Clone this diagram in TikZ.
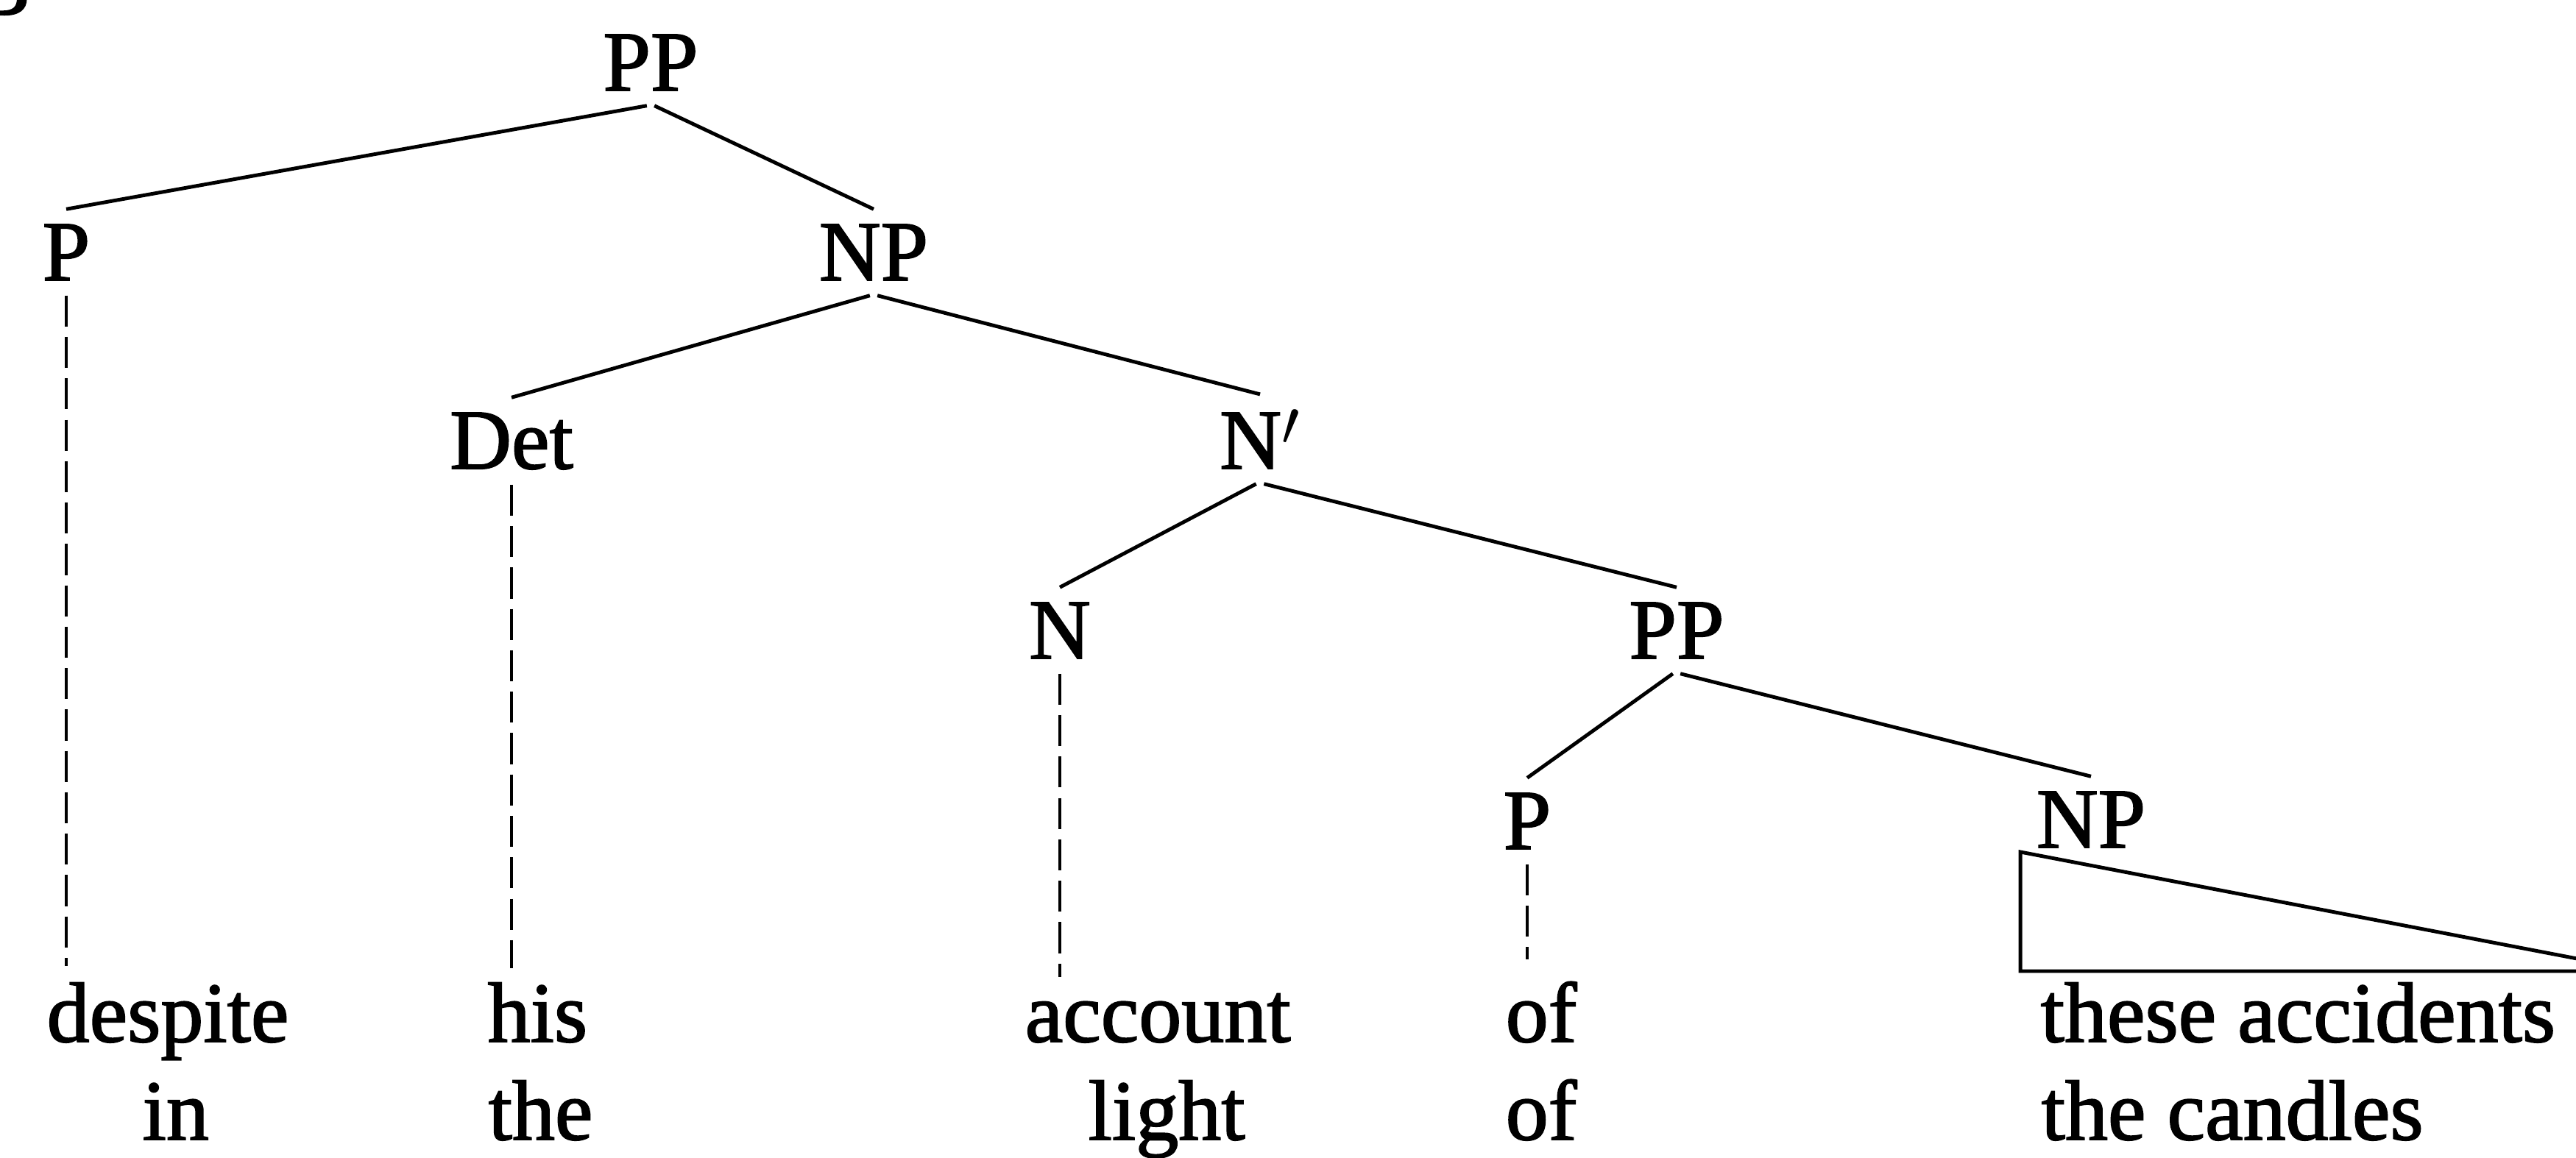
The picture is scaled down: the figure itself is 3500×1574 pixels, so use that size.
\documentclass[tikz,border=0pt]{standalone}
\usepackage{fontspec}
\setmainfont{Liberation Serif}[FakeBold=1.6]
\usepackage{tikz}

\begin{document}
\begin{tikzpicture}[x=0.01cm,y=-0.01cm,
  cat/.style={font=\fontsize{33}{40}\selectfont,anchor=base,inner sep=0.2cm},
  wrd/.style={font=\fontsize{33}{40}\selectfont,anchor=base west,inner sep=0pt},
  branch/.style={line width=1.4pt},
  trace/.style={line width=1.4pt,dash pattern=on 12pt off 4pt}]
\useasboundingbox (0,0) rectangle (3500,1574);
\clip (0,0) rectangle (3500,1574);
\node[cat,anchor=base east,inner sep=0pt] (tag) at (42,20) {B};
\node[cat] (pp) at (884,123) {PP};
\node[cat] (p) at (90,381) {P};
\node[cat] (np) at (1187,381) {NP};
\node[cat] (det) at (695,637) {Det};
\node[cat] (nbar) at (1712,637) {N$'$};
\node[cat] (n) at (1440,895) {N};
\node[cat] (pp2) at (2278,895) {PP};
\node[cat] (p2) at (2075,1154) {P};
\node[cat] (np2) at (2841,1152) {NP};
\draw[branch] (pp.-95) -- (p.north);
\draw[branch] (pp.-85) -- (np.north);
\draw[branch] (np.-95) -- (det.north);
\draw[branch] (np.-85) -- (nbar.north);
\draw[branch] (nbar.-95) -- (n.north);
\draw[branch] (nbar.-85) -- (pp2.north);
\draw[branch] (pp2.-95) -- (p2.north);
\draw[branch] (pp2.-85) -- (np2.north);
\node[wrd] (w1a) at (63,1416) {despite};
\node[wrd] (w1b) at (193,1549) {in};
\node[wrd] (w2a) at (662,1416) {his};
\node[wrd] (w2b) at (663,1549) {the};
\node[wrd] (w3a) at (1392,1416) {account};
\node[wrd] (w3b) at (1478,1549) {light};
\node[wrd] (w4a) at (2045,1416) {of};
\node[wrd] (w4b) at (2045,1549) {of};
\node[wrd] (w5a) at (2772,1416) {these accidents};
\node[wrd] (w5b) at (2773,1549) {the candles};
% traces down to the words
\coordinate (pfoot) at (90,1313);
\coordinate (detfoot) at (695,1316);
\coordinate (nfoot) at (1440,1328);
\coordinate (p2foot) at (2075,1304);
\draw[trace] (p.south) -- (pfoot);
\draw[trace] (det.south) -- (detfoot);
\draw[trace] (n.south) -- (nfoot);
\draw[trace] (p2.south) -- (p2foot);
\coordinate (apex) at (2745,1158);
\coordinate (foot) at (2745,1320);
\coordinate (tip) at (3590,1320);
\draw[branch] (apex) -- (tip) -- (foot) -- cycle;
\end{tikzpicture}
\end{document}
